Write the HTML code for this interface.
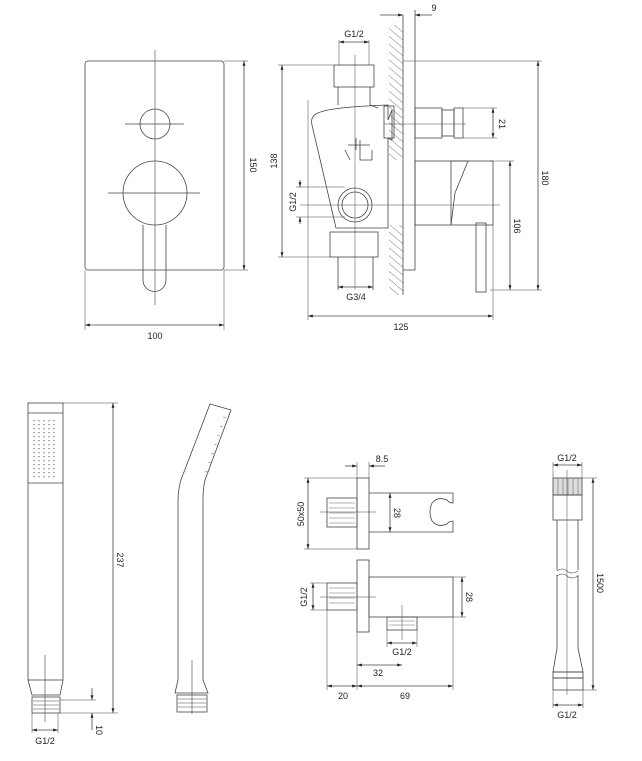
<!DOCTYPE html>
<html><head><meta charset="utf-8"><style>html,body{margin:0;padding:0;background:#fff}svg{display:block}</style></head><body>
<svg width="642" height="761" viewBox="0 0 642 761" xmlns="http://www.w3.org/2000/svg" font-family="Liberation Sans, sans-serif" font-size="9" fill="none" stroke="#333" stroke-width="0.8">
<defs>
<marker id="a" viewBox="0 0 10 10" refX="10" refY="5" markerWidth="6" markerHeight="6" orient="auto-start-reverse"><path d="M0,2 L10,5 L0,8z" fill="#222" stroke="none"/></marker>
<pattern id="h" width="6" height="6" patternUnits="userSpaceOnUse" patternTransform="rotate(-50)"><line x1="0" y1="0" x2="0" y2="6" stroke="#555" stroke-width="0.8"/></pattern>
</defs>
<g stroke="#444">
<!-- FRONT VIEW -->
<rect x="85" y="61" width="139" height="209" rx="3"/>
<line x1="155" y1="50" x2="155" y2="305" stroke-width="0.6"/>
<circle cx="155" cy="124" r="15"/>
<line x1="125" y1="124" x2="184" y2="124"/>
<circle cx="155" cy="193" r="32"/>
<line x1="108" y1="193" x2="200" y2="193"/>
<path d="M143 225 V280 A11.5 11.5 0 0 0 166 280 V225"/>
<line x1="224" y1="61" x2="248" y2="61" stroke-width="0.5"/>
<line x1="224" y1="270" x2="248" y2="270" stroke-width="0.5"/>
<line x1="244" y1="61" x2="244" y2="270" marker-start="url(#a)" marker-end="url(#a)"/>
<line x1="85" y1="270" x2="85" y2="330" stroke-width="0.5"/>
<line x1="224" y1="270" x2="224" y2="330" stroke-width="0.5"/>
<line x1="85" y1="325" x2="224" y2="325" marker-start="url(#a)" marker-end="url(#a)"/>

<!-- SIDE VIEW -->
<rect x="389" y="25" width="14" height="135" fill="url(#h)" stroke="none"/>
<rect x="389" y="225" width="14" height="70" fill="url(#h)" stroke="none"/>
<line x1="403" y1="15" x2="403" y2="295"/>
<line x1="415" y1="10" x2="415" y2="270"/>
<line x1="403" y1="270" x2="415" y2="270"/>
<line x1="380" y1="15" x2="403" y2="15" marker-end="url(#a)"/>
<line x1="432" y1="15" x2="415" y2="15" marker-end="url(#a)"/>
<line x1="403" y1="61" x2="542" y2="61" stroke-width="0.5"/>
<line x1="538" y1="61" x2="538" y2="290" marker-start="url(#a)" marker-end="url(#a)"/>
<line x1="490" y1="290" x2="542" y2="290" stroke-width="0.5"/>
<line x1="490" y1="161" x2="514" y2="161" stroke-width="0.5"/>
<line x1="510" y1="161" x2="510" y2="290" marker-start="url(#a)" marker-end="url(#a)"/>
<!-- spout -->
<rect x="415" y="161" width="78" height="64"/>
<path d="M451 161 L468 161 L455 193 L451 225"/>
<line x1="451" y1="161" x2="451" y2="225"/>
<rect x="476" y="223" width="10" height="69"/>
<!-- diverter -->
<rect x="415" y="108" width="27" height="30"/>
<rect x="442" y="110" width="12" height="26"/>
<rect x="454" y="108" width="9" height="30"/>
<line x1="384" y1="124" x2="466" y2="124" stroke-width="0.5"/>
<line x1="463" y1="108" x2="497" y2="108" stroke-width="0.5"/>
<line x1="463" y1="138" x2="497" y2="138" stroke-width="0.5"/>
<line x1="493" y1="108" x2="493" y2="138" marker-start="url(#a)" marker-end="url(#a)"/>
<!-- body -->
<rect x="334" y="65" width="40" height="22"/>
<path d="M338 87 V105 M370 87 V105 L378 108"/>
<path d="M318 113 Q330 107 388 105 V120 L392 110 V140 L388 138 V228 L336 228 L312 125 Q310 116 318 113z"/>
<rect x="384" y="106" width="10" height="32"/>
<path d="M356 138 V150 M348 145 H370 M360 140 V160 H372 V150 M345 150 L350 160"/>
<circle cx="355" cy="205" r="17"/>
<circle cx="355" cy="205" r="13"/>
<line x1="300" y1="205" x2="500" y2="205" stroke-width="0.5"/>
<line x1="355" y1="55" x2="355" y2="290" stroke-width="0.5"/>
<rect x="330" y="232" width="48" height="25"/>
<path d="M338 257 V290 M373 257 V290"/>
<line x1="338" y1="287" x2="373" y2="287" marker-start="url(#a)" marker-end="url(#a)"/>
<path d="M339 40 V65 M369 40 V65" stroke-width="0.5"/>
<line x1="339" y1="42" x2="369" y2="42" marker-start="url(#a)" marker-end="url(#a)"/>
<line x1="278" y1="65" x2="334" y2="65" stroke-width="0.5"/>
<line x1="278" y1="257" x2="330" y2="257" stroke-width="0.5"/>
<line x1="282" y1="65" x2="282" y2="257" marker-start="url(#a)" marker-end="url(#a)"/>
<line x1="296" y1="187" x2="345" y2="187" stroke-width="0.5"/>
<line x1="296" y1="217" x2="345" y2="217" stroke-width="0.5"/>
<line x1="300" y1="180" x2="300" y2="187" marker-end="url(#a)"/>
<line x1="300" y1="224" x2="300" y2="217" marker-end="url(#a)"/>
<line x1="308" y1="100" x2="308" y2="320" stroke-width="0.5"/>
<line x1="493" y1="225" x2="493" y2="320" stroke-width="0.5"/>
<line x1="308" y1="316" x2="493" y2="316" marker-start="url(#a)" marker-end="url(#a)"/>

<!-- HANDSHOWER STRAIGHT -->
<rect x="28" y="403" width="35" height="277"/>
<line x1="28" y1="413" x2="63" y2="413"/>
<line x1="28" y1="483" x2="63" y2="483"/>
<g stroke="#777" stroke-dasharray="1.2 2.8" stroke-width="1.2">
<line x1="34" y1="420" x2="34" y2="480"/><line x1="39" y1="420" x2="39" y2="480"/><line x1="44" y1="420" x2="44" y2="480"/><line x1="49" y1="420" x2="49" y2="480"/><line x1="54" y1="420" x2="54" y2="480"/>
</g>
<path d="M28 680 L32 695 H60 L63 680"/>
<rect x="32" y="697" width="28" height="16"/>
<path d="M33 701 H59 M33 705 H59 M33 709 H59" stroke-width="0.5"/>
<line x1="45" y1="655" x2="45" y2="722" stroke-width="0.6"/>
<line x1="63" y1="403" x2="118" y2="403" stroke-width="0.5"/>
<line x1="60" y1="713" x2="118" y2="713" stroke-width="0.5"/>
<line x1="60" y1="700" x2="96" y2="700" stroke-width="0.5"/>
<line x1="113" y1="403" x2="113" y2="713" marker-start="url(#a)" marker-end="url(#a)"/>
<line x1="92" y1="688" x2="92" y2="700" marker-end="url(#a)"/>
<line x1="92" y1="730" x2="92" y2="713" marker-end="url(#a)"/>
<path d="M32 713 V733 M58 713 V733" stroke-width="0.5"/>
<line x1="32" y1="730" x2="58" y2="730" marker-start="url(#a)" marker-end="url(#a)"/>

<!-- HANDSHOWER CURVED -->
<path d="M178 680 V500 Q178 485 184 472 L210 404 L231 410 L205 480 Q203 488 203 500 V680"/>
<g stroke="#777" stroke-width="0.6"><path d="M226 418 l-3 -1 M223 427 l-3 -1 M220 436 l-3 -1 M217 445 l-3 -1 M214 454 l-3 -1 M211 463 l-3 -1 M208 472 l-3 -1"/></g>
<path d="M178 680 L175 693 H208 L203 680"/>
<rect x="177" y="695" width="30" height="17"/>
<path d="M178 699 H206 M178 703 H206 M178 707 H206" stroke-width="0.5"/>
<line x1="192" y1="660" x2="192" y2="714" stroke-width="0.6"/>

<!-- WALL OUTLET TOP -->
<rect x="357" y="478" width="12" height="71"/>
<rect x="327" y="498" width="30" height="29"/>
<path d="M329 503 H355 M329 508 H355 M329 513 H355 M329 518 H355 M329 523 H355" stroke-width="0.4"/>
<line x1="320" y1="512" x2="376" y2="512" stroke-width="0.5"/>
<path d="M369 493 H453 V503 Q449 503 447 500 Q438 496 432 503 Q428 512 432 521 Q438 528 447 524 Q449 521 453 521 V532 H369"/>
<line x1="357" y1="462" x2="357" y2="478" stroke-width="0.5"/>
<line x1="369" y1="462" x2="369" y2="478" stroke-width="0.5"/>
<line x1="345" y1="466" x2="357" y2="466" marker-end="url(#a)"/>
<line x1="385" y1="466" x2="369" y2="466" marker-end="url(#a)"/>
<line x1="304" y1="478" x2="357" y2="478" stroke-width="0.5"/>
<line x1="304" y1="549" x2="357" y2="549" stroke-width="0.5"/>
<line x1="308" y1="478" x2="308" y2="549" marker-start="url(#a)" marker-end="url(#a)"/>
<line x1="390" y1="493" x2="390" y2="532" marker-start="url(#a)" marker-end="url(#a)"/>

<!-- WALL OUTLET BOTTOM -->
<rect x="357" y="560" width="12" height="72"/>
<rect x="369" y="577" width="84" height="40"/>
<rect x="327" y="583" width="30" height="27"/>
<path d="M329 588 H355 M329 593 H355 M329 598 H355 M329 603 H355" stroke-width="0.4"/>
<line x1="320" y1="597" x2="376" y2="597" stroke-width="0.5"/>
<rect x="387" y="617" width="30" height="13"/>
<path d="M389 621 H415 M389 625 H415" stroke-width="0.4"/>
<line x1="402" y1="605" x2="402" y2="640" stroke-width="0.5"/>
<line x1="310" y1="583" x2="327" y2="583" stroke-width="0.5"/>
<line x1="310" y1="610" x2="327" y2="610" stroke-width="0.5"/>
<line x1="313" y1="583" x2="313" y2="610" marker-start="url(#a)" marker-end="url(#a)"/>
<line x1="453" y1="577" x2="466" y2="577" stroke-width="0.5"/>
<line x1="453" y1="617" x2="466" y2="617" stroke-width="0.5"/>
<line x1="462" y1="577" x2="462" y2="617" marker-start="url(#a)" marker-end="url(#a)"/>
<path d="M387 630 V647 M417 630 V647" stroke-width="0.5"/>
<line x1="387" y1="643" x2="417" y2="643" marker-start="url(#a)" marker-end="url(#a)"/>
<line x1="357" y1="632" x2="357" y2="690" stroke-width="0.5"/>
<line x1="327" y1="610" x2="327" y2="690" stroke-width="0.5"/>
<line x1="453" y1="617" x2="453" y2="690" stroke-width="0.5"/>
<line x1="357" y1="665" x2="402" y2="665" marker-start="url(#a)" marker-end="url(#a)"/>
<line x1="327" y1="686" x2="357" y2="686" marker-start="url(#a)" marker-end="url(#a)"/>
<line x1="357" y1="686" x2="453" y2="686" marker-start="url(#a)" marker-end="url(#a)"/>

<!-- HOSE -->
<path d="M553 462 V478 M582 462 V478" stroke-width="0.5"/>
<line x1="553" y1="465" x2="582" y2="465" marker-start="url(#a)" marker-end="url(#a)"/>
<rect x="553" y="478" width="29" height="17" fill="#ddd"/>
<path d="M558 478 V495 M563 478 V495 M568 478 V495 M573 478 V495 M578 478 V495" stroke="#888"/>
<rect x="553" y="495" width="29" height="25"/>
<path d="M557 520 V570 M578 520 V570 M557 575 V648 M578 575 V648"/>
<path d="M557 571 Q562 567 567 571 Q572 575 578 571 M557 576 Q562 572 567 576 Q572 580 578 576" stroke-width="0.6"/>
<path d="M557 648 L553 672 H583 L578 648"/>
<rect x="553" y="672" width="30" height="6"/>
<rect x="553" y="678" width="30" height="12"/>
<line x1="567" y1="470" x2="567" y2="695" stroke-width="0.5"/>
<line x1="582" y1="478" x2="597" y2="478" stroke-width="0.5"/>
<line x1="583" y1="690" x2="597" y2="690" stroke-width="0.5"/>
<line x1="593" y1="478" x2="593" y2="690" marker-start="url(#a)" marker-end="url(#a)"/>
<path d="M553 690 V708 M583 690 V708" stroke-width="0.5"/>
<line x1="553" y1="705" x2="583" y2="705" marker-start="url(#a)" marker-end="url(#a)"/>
</g>

<g fill="#222" stroke="none" text-anchor="middle">
<text x="155" y="339">100</text>
<text transform="translate(250,165) rotate(90)">150</text>
<text x="434" y="11">9</text>
<text x="354" y="37">G1/2</text>
<text transform="translate(277,161) rotate(-90)">138</text>
<text transform="translate(296,202) rotate(-90)">G1/2</text>
<text transform="translate(499,124) rotate(90)">21</text>
<text transform="translate(542,178) rotate(90)">180</text>
<text transform="translate(514,226) rotate(90)">106</text>
<text x="356" y="300">G3/4</text>
<text x="401" y="330">125</text>
<text transform="translate(117,560) rotate(90)">237</text>
<text transform="translate(96,730) rotate(90)">10</text>
<text x="45" y="744">G1/2</text>
<text x="382" y="462">8.5</text>
<text transform="translate(304,514) rotate(-90)">50x50</text>
<text transform="translate(394,513) rotate(90)">28</text>
<text transform="translate(307,597) rotate(-90)">G1/2</text>
<text transform="translate(466,597) rotate(90)">28</text>
<text x="402" y="655">G1/2</text>
<text x="378" y="676">32</text>
<text x="343" y="690" dy="9">20</text>
<text x="405" y="690" dy="9">69</text>
<text x="567" y="461">G1/2</text>
<text transform="translate(597,583) rotate(90)">1500</text>
<text x="567" y="718">G1/2</text>
</g>
</svg>
</body></html>
